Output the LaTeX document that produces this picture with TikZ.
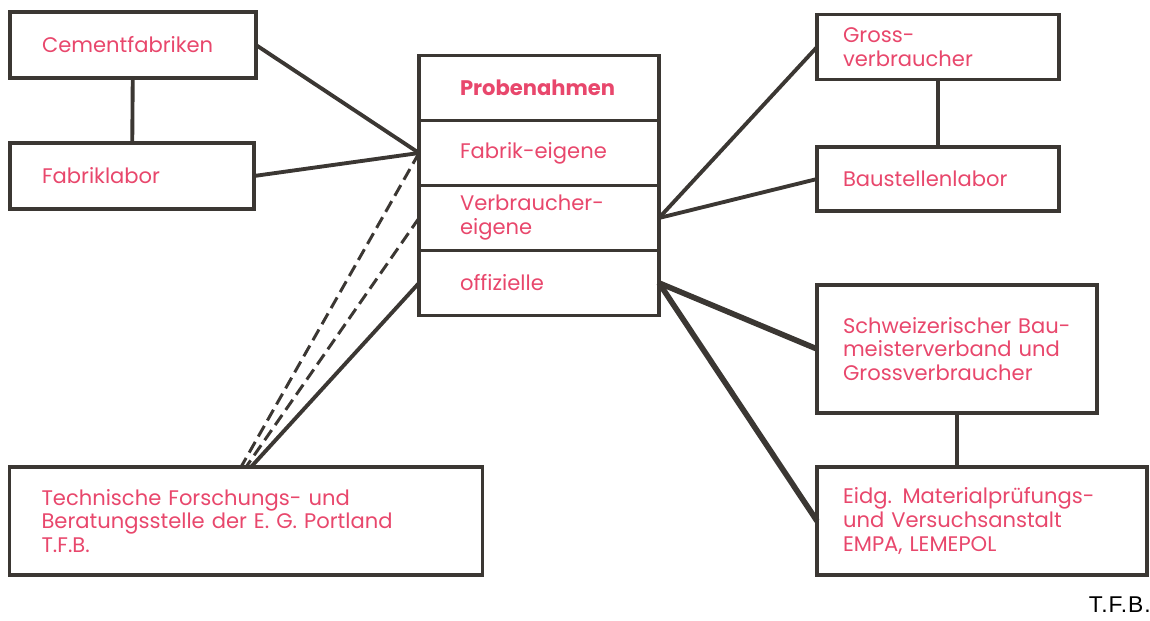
\documentclass[tikz,border=0pt]{standalone}
\usepackage{fontspec}
\setmainfont{Poppins}
\newfontfamily\markfont{Liberation Sans}[LetterSpace=4]
\usetikzlibrary{positioning}
\definecolor{boxline}{HTML}{3b3733}
\definecolor{labelpink}{HTML}{e8476c}
\tikzset{
  orgbox/.style={draw=boxline, line width=2.2pt, rectangle, outer sep=0pt,
    inner ysep=0pt, inner xsep=#1, align=left, text=labelpink,
    font=\fontsize{12}{13.6}\selectfont},
  rowbox/.style={orgbox=0.82cm, text width=3.16cm, minimum height=1.3cm},
  link/.style={draw=boxline, line width=2.2pt},
  heavylink/.style={draw=boxline, line width=3.2pt},
  dashlink/.style={draw=boxline, line width=1.7pt, dash pattern=on 7pt off 3.5pt}
}

\begin{document}
\begin{tikzpicture}[x=0.02cm, y=-0.02cm]
  \useasboundingbox (0,0) rectangle (1150,620);
  % left column
  \node[orgbox=0.64cm, text width=3.64cm, minimum height=1.32cm] (cement) at (133,45) {Cementfabriken};
  \node[orgbox=0.64cm, text width=3.6cm, minimum height=1.32cm] (fablab) at (132,176) {Fabriklabor};
  \node[orgbox=0.64cm, text width=8.18cm, minimum height=2.16cm] (tfb) at (246,521)
    {Technische Forschungs- und\\ Beratungsstelle der E. G. Portland\\ T.F.B.};
  % centre: kinds of sampling
  \node[rowbox] (probe) at (539,88) {\textbf{Probenahmen}};
  \node[rowbox, below=0pt of probe] (fabrik) {Fabrik-eigene};
  \node[rowbox, below=0pt of fabrik] (verbr) {Verbraucher-\\eigene};
  \node[rowbox, below=0pt of verbr] (offiz) {offizielle};
  % right column
  \node[orgbox=0.52cm, text width=3.8cm, minimum height=1.3cm] (gross) at (938,47) {Gross-\\verbraucher};
  \node[orgbox=0.52cm, text width=3.8cm, minimum height=1.28cm] (bau) at (938,179) {Baustellenlabor};
  \node[orgbox=0.52cm, text width=4.56cm, minimum height=2.56cm] (schweiz) at (957,349)
    {Schweizerischer Bau-\\meisterverband und\\Grossverbraucher};
  \node[orgbox=0.52cm, text width=5.56cm, minimum height=2.16cm] (empa) at (982,521)
    {Eidg. Materialprüfungs-\\und Versuchsanstalt\\EMPA, LEMEPOL};
  \node[font=\markfont\fontsize{13}{15}\selectfont, anchor=east, inner sep=0pt] (mark) at (1151,605) {T.F.B.};
  % vertical ties
  \draw[link] (cement) -- (fablab);
  \draw[link] (gross) -- (bau);
  \draw[link] (schweiz.south) -- (schweiz.south |- empa.north);
  % connectors to the centre
  \draw[link] (cement.east) -- (fabrik.west);
  \draw[link] (fablab.east) -- (fabrik.west);
  \draw[dashlink] (fabrik.west) -- ([xshift=-0.1cm]tfb.north);
  \draw[dashlink] (verbr.west) -- (tfb.north);
  \draw[link] (offiz.west) -- ([xshift=0.1cm]tfb.north);
  \draw[link] (verbr.east) -- (gross.west);
  \draw[link] (verbr.east) -- (bau.west);
  \draw[heavylink] (offiz.east) -- (schweiz.west);
  \draw[heavylink] (offiz.east) -- (empa.west);
\end{tikzpicture}
\end{document}
